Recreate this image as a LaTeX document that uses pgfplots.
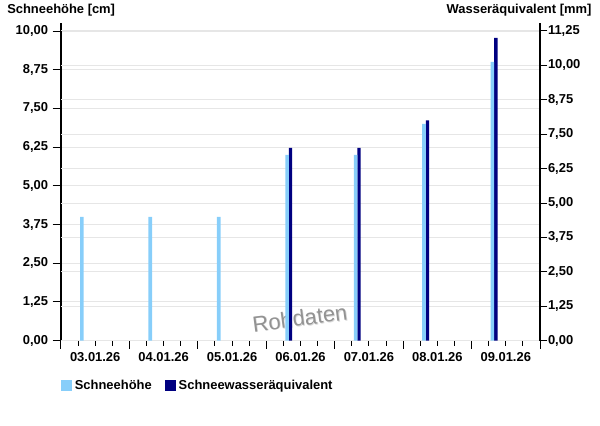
\documentclass[border=0pt]{standalone}
\usepackage{fontspec}
\setmainfont{Liberation Sans}
\usepackage{pgfplots}
\usepackage{pgfplotstable}
\pgfplotsset{compat=1.18}

\definecolor{hoehe}{RGB}{135,206,250}
\definecolor{swe}{RGB}{0,0,128}
\definecolor{gridc}{RGB}{230,230,230}
\newcommand{\lbl}{\fontsize{9.7}{11}\selectfont\bfseries}

% Schneehoehe [cm], one reading per day (days counted from 03.01.26 00:00)
\pgfplotstableread{
x     h
0.305 4
1.305 4
2.305 4
3.305 6
4.305 6
5.305 7
6.305 9
}\tabHoehe

% Schneewasseraequivalent [mm]
\pgfplotstableread{
x     w
3.355 7
4.355 7
5.355 8
6.355 11
}\tabSwe

\pgfplotsset{
  base/.style={
    scale only axis, width=359.25pt, height=238.5pt,
    at={(0,0)}, anchor=south west,
    xmin=0, xmax=7, clip=false,
    tick align=outside,
    tick style={black, line width=0.75pt},
    axis line style={black, line width=1pt, -},
    major grid style={gridc, line width=0.75pt},
    ticklabel style={font=\lbl},
    /pgf/number format/use comma,
    /pgf/number format/fixed,
    /pgf/number format/fixed zerofill,
    /pgf/number format/precision=2,
    /pgf/number format/assume math mode=true,
  },
}

\begin{document}
\begin{tikzpicture}
\path[use as bounding box] (-45.75pt,-63.98pt) rectangle (404.25pt,255.5pt);

% left axis, grid and date axis
\begin{axis}[base,
  ymin=0, ymax=10.27, ytick={0,1.25,...,10},
  axis y line*=left, axis x line*=bottom,
  ymajorgrids,
  major tick length=6.2pt, minor tick length=3.75pt,
  xtick={0,...,7}, xticklabels={},
  minor xtick={0,0.25,...,7},
  extra x ticks={0.5,1.5,2.5,3.5,4.5,5.5,6.5},
  extra x tick labels={03.01.26,04.01.26,05.01.26,06.01.26,07.01.26,08.01.26,09.01.26},
  extra x tick style={major tick length=0pt, xticklabel style={yshift=-5.5pt}},
]
\node[rotate=7.5, text=gray!30, font=\fontsize{16.5}{17}\selectfont] at (axis cs:3.502,0.705) {Rohdaten};
\node[rotate=7.5, text=gray!85, font=\fontsize{16.5}{17}\selectfont] at (axis cs:3.49,0.73) {Rohdaten};
\end{axis}

% right axis with water equivalent
\begin{axis}[base,
  ymin=0, ymax=11.55, ytick={0,1.25,...,11.25},
  axis y line*=right, axis x line=none,
  ymajorgrids,
  major tick length=5.5pt,
  yticklabel style={xshift=-3pt},
  ybar, bar width=2.5pt, bar shift=0pt,
]
\addplot[fill=swe, draw=none] table[x=x, y=w] {\tabSwe};
\end{axis}

% snow depth bars on top of both grids
\begin{axis}[base,
  ymin=0, ymax=10.27, hide axis,
  ybar, bar width=2.7pt, bar shift=0pt,
  legend columns=2,
  legend style={at={(axis description cs:0,0)}, anchor=west, yshift=-33.5pt,
    draw=none, fill=none, inner sep=0pt, font=\lbl,
    /tikz/every even column/.append style={column sep=8pt}},
  legend image code/.code={\fill[#1] (0pt,-4.1pt) rectangle (8.2pt,4.1pt);},
]
\addplot[fill=hoehe, draw=none] table[x=x, y=h] {\tabHoehe};
\addlegendentry{Schneehöhe}
\addlegendimage{fill=swe, draw=none}
\addlegendentry{Schneewasseräquivalent}
\end{axis}

\node[anchor=west, inner sep=0pt, font=\lbl] at (-40.5pt,248pt) {Schneehöhe [cm]};
\node[anchor=east, inner sep=0pt, font=\lbl] at (398pt,248pt) {Wasseräquivalent [mm]};
\end{tikzpicture}
\end{document}
